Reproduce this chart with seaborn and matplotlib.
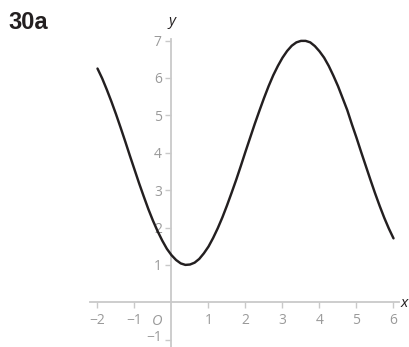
import matplotlib
matplotlib.use("Agg")
import matplotlib.pyplot as plt
import seaborn as sns
import pandas as pd

# Sampled points of the curve
x_vals = [-2.000, -1.875, -1.750, -1.625, -1.500, -1.375, -1.250, -1.125,
          -1.000, -0.875, -0.750, -0.625, -0.500, -0.375, -0.250, -0.125,
          0.000, 0.125, 0.250, 0.375, 0.500, 0.625, 0.750, 0.875,
          1.000, 1.125, 1.250, 1.375, 1.500, 1.625, 1.750, 1.875,
          2.000, 2.125, 2.250, 2.375, 2.500, 2.625, 2.750, 2.875,
          3.000, 3.125, 3.250, 3.375, 3.500, 3.625, 3.750, 3.875,
          4.000, 4.125, 4.250, 4.375, 4.500, 4.625, 4.750, 4.875,
          5.000, 5.125, 5.250, 5.375, 5.500, 5.625, 5.750, 5.875,
          6.000]
y_vals = [6.25, 5.99, 5.69, 5.37, 5.03, 4.67, 4.30, 3.92,
          3.55, 3.18, 2.83, 2.49, 2.18, 1.90, 1.65, 1.43,
          1.26, 1.13, 1.04, 1.00, 1.01, 1.06, 1.16, 1.31,
          1.49, 1.72, 1.98, 2.27, 2.59, 2.93, 3.28, 3.65,
          4.03, 4.40, 4.77, 5.12, 5.46, 5.78, 6.07, 6.32,
          6.54, 6.72, 6.86, 6.95, 6.99, 6.99, 6.95, 6.85,
          6.71, 6.54, 6.32, 6.06, 5.78, 5.46, 5.14, 4.76,
          4.40, 4.02, 3.65, 3.28, 2.92, 2.58, 2.26, 1.97,
          1.71]

x_ticks = [-2, -1, 1, 2, 3, 4, 5, 6]
y_ticks = [-1, 1, 2, 3, 4, 5, 6, 7]

df = pd.DataFrame({"x": x_vals, "y": y_vals})

sns.set_style("white")
plt.rcParams["font.family"] = ["Open Sans", "DejaVu Sans"]

W, H = 410, 347
fig = plt.figure(figsize=(W / 100, H / 100), dpi=100)

xlim = (-2.2, 6.15)
ylim = (-1.2, 7.05)
x0_px, xu = 171.5, 37.0
y0_px, yu = 302.3, 37.4
left = (x0_px + xlim[0] * xu) / W
right = (x0_px + xlim[1] * xu) / W
top = (y0_px - ylim[1] * yu) / H
bottom = (y0_px - ylim[0] * yu) / H
ax = fig.add_axes([left, 1 - bottom, right - left, bottom - top])
ax.set_xlim(*xlim)
ax.set_ylim(*ylim)
ax.patch.set_alpha(0)

axis_color = "#c9c9c9"
label_color = "#9a9a9a"

sns.lineplot(data=df, x="x", y="y", ax=ax, sort=False, color="#231f20",
             linewidth=1.75, zorder=3)

for side in ("top", "right"):
    ax.spines[side].set_visible(False)
ax.spines["left"].set_position(("data", 0))
ax.spines["bottom"].set_position(("data", 0))
for side in ("left", "bottom"):
    ax.spines[side].set_color(axis_color)
    ax.spines[side].set_linewidth(1.3)


def fmt(t):
    return str(t).replace("-", "\u2212")


ax.set_xticks(x_ticks)
ax.set_yticks(y_ticks)
ax.set_xticklabels([fmt(t) for t in x_ticks])
# the lowest y label sits at the figure edge; it is drawn separately below
ax.set_yticklabels(["" if t == y_ticks[0] else fmt(t) for t in y_ticks])
ax.tick_params(axis="both", direction="out", length=4.5, width=1.0,
               color=axis_color, labelcolor=label_color, labelsize=10)
ax.tick_params(axis="x", pad=3.5, bottom=True)
ax.tick_params(axis="y", pad=2.5, left=True)
ax.set_xlabel("")
ax.set_ylabel("")

ax.text(-0.26, y_ticks[0] + 0.05, fmt(y_ticks[0]), fontsize=10,
        color=label_color, ha="right", va="center", clip_on=False)

# Axis names and origin
ax.text(6.3, -0.02, "x", style="italic", fontsize=11, color="#231f20",
        ha="center", va="center", clip_on=False)
ax.text(0.02, 7.5, "y", style="italic", fontsize=11, color="#231f20",
        ha="center", va="center", clip_on=False)
ax.text(-0.38, -0.52, "O", style="italic", fontsize=10.5, color=label_color,
        ha="center", va="center", clip_on=False)

fig.text(8 / W, 1 - 29 / H, "30a", fontsize=17, fontweight="bold",
         family="Liberation Sans", color="#231f20", ha="left", va="baseline")

fig.savefig("out.png", dpi=100)
